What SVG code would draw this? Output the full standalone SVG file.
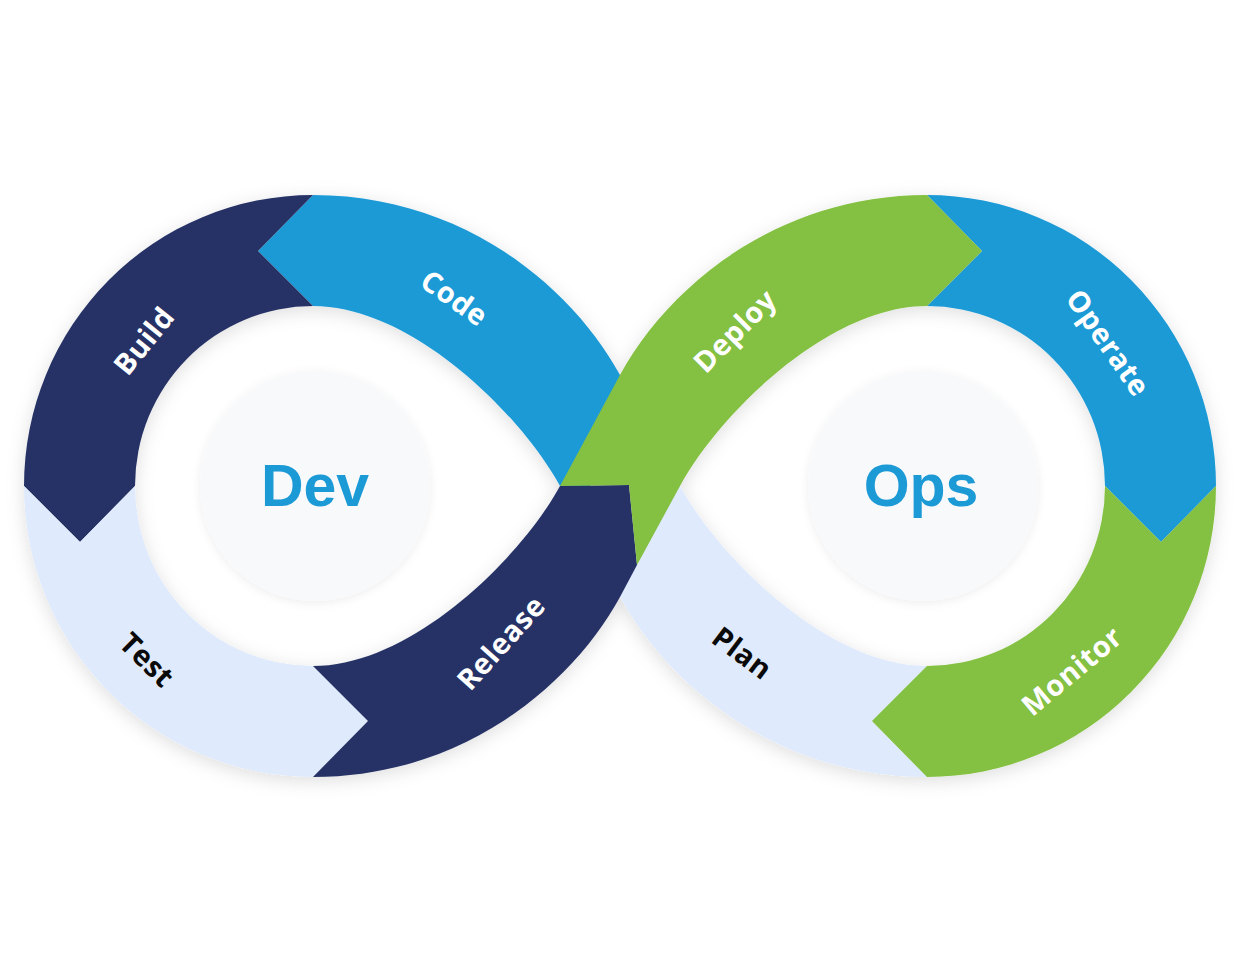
<svg xmlns="http://www.w3.org/2000/svg" width="1240" height="972" viewBox="0 0 1240 972">
<defs>
<style>
.navy{fill:#273366}
.blue{fill:#1e9ad6}
.green{fill:#84c042}
.light{fill:#dfeafc}
.lbl{font-family:"Open Sans","Noto Sans",sans-serif;font-weight:700;font-size:29px;text-anchor:middle;dominant-baseline:central;letter-spacing:0.5px}
.w{fill:#ffffff}
.k{fill:#0a0a0a}
.hub{fill:#f8f9fb}
.big{font-family:"Liberation Sans",Arial,sans-serif;font-weight:700;font-size:59px;fill:#1e9ad6;text-anchor:middle}
</style>
<filter id="sh" x="-10%" y="-10%" width="120%" height="120%">
<feDropShadow dx="0" dy="4" stdDeviation="9" flood-color="#000" flood-opacity="0.13"/>
</filter>
<filter id="shc" x="-20%" y="-20%" width="140%" height="140%">
<feDropShadow dx="0" dy="2" stdDeviation="5" flood-color="#000" flood-opacity="0.07"/>
</filter>
</defs>
<rect width="1240" height="972" fill="#ffffff"/>
<g id="hubs" filter="url(#shc)">
<g id="dev"><circle class="hub" cx="315" cy="486" r="115"/><text class="big" x="315" y="506">Dev</text></g>
<g id="ops"><circle class="hub" cx="923" cy="486" r="115"/><text class="big" x="921" y="506">Ops</text></g>
</g>
<g id="loop" filter="url(#sh)">
<g id="code"><path class="blue" d="M313,195 C463,195 572,287 620,375 L645,421 L590,486 L560,486 C522,416 413,306 313,306 L258,251 Z"/></g>
<g id="plan"><path class="light" d="M927,777 C777,777 668,685 620,597 L595,551 L650,486 L680,486 C718,556 827,666 927,666 L872,721 Z"/></g>
<g id="build"><path class="navy" d="M313,195 A289,291 0 0 0 24,486 L80,542 L135,486 A178,180 0 0 1 313,306 L258,251 Z"/></g>
<g id="test"><path class="light" d="M24,486 A289,291 0 0 0 313,777 L368,721 L313,666 A178,180 0 0 1 135,486 L80,542 Z"/></g>
<g id="operate"><path class="blue" d="M927,195 A289,291 0 0 1 1216,486 L1161,542 L1105,486 A178,180 0 0 0 927,306 L982,251 Z"/></g>
<g id="monitor"><path class="green" d="M1216,486 A289,291 0 0 1 927,777 L872,721 L927,666 A178,180 0 0 0 1105,486 L1161,542 Z"/></g>
<g id="release"><path class="navy" d="M313,666 C413,666 522,556 560,486 L629,485 L637,565 L620,597 C572,685 463,777 313,777 L368,721 Z"/></g>
<g id="deploy"><path class="green" d="M560,486 L620,375 C668,287 777,195 927,195 L982,251 L927,306 C827,306 718,416 680,486 L637,565 L629,485 Z"/></g>
</g>
<g id="labels">
<text class="lbl w" transform="translate(143,340) rotate(-51)">Build</text>
<text class="lbl w" transform="translate(455,297) rotate(35)">Code</text>
<text class="lbl k" transform="translate(148,659) rotate(45)">Test</text>
<text class="lbl w" transform="translate(500,642) rotate(-48)">Release</text>
<text class="lbl w" transform="translate(734,330) rotate(-45)">Deploy</text>
<text class="lbl w" transform="translate(1109,342) rotate(55)">Operate</text>
<text class="lbl w" transform="translate(1071,670) rotate(-40)">Monitor</text>
<text class="lbl k" transform="translate(743,652) rotate(37)">Plan</text>
</g>
</svg>
